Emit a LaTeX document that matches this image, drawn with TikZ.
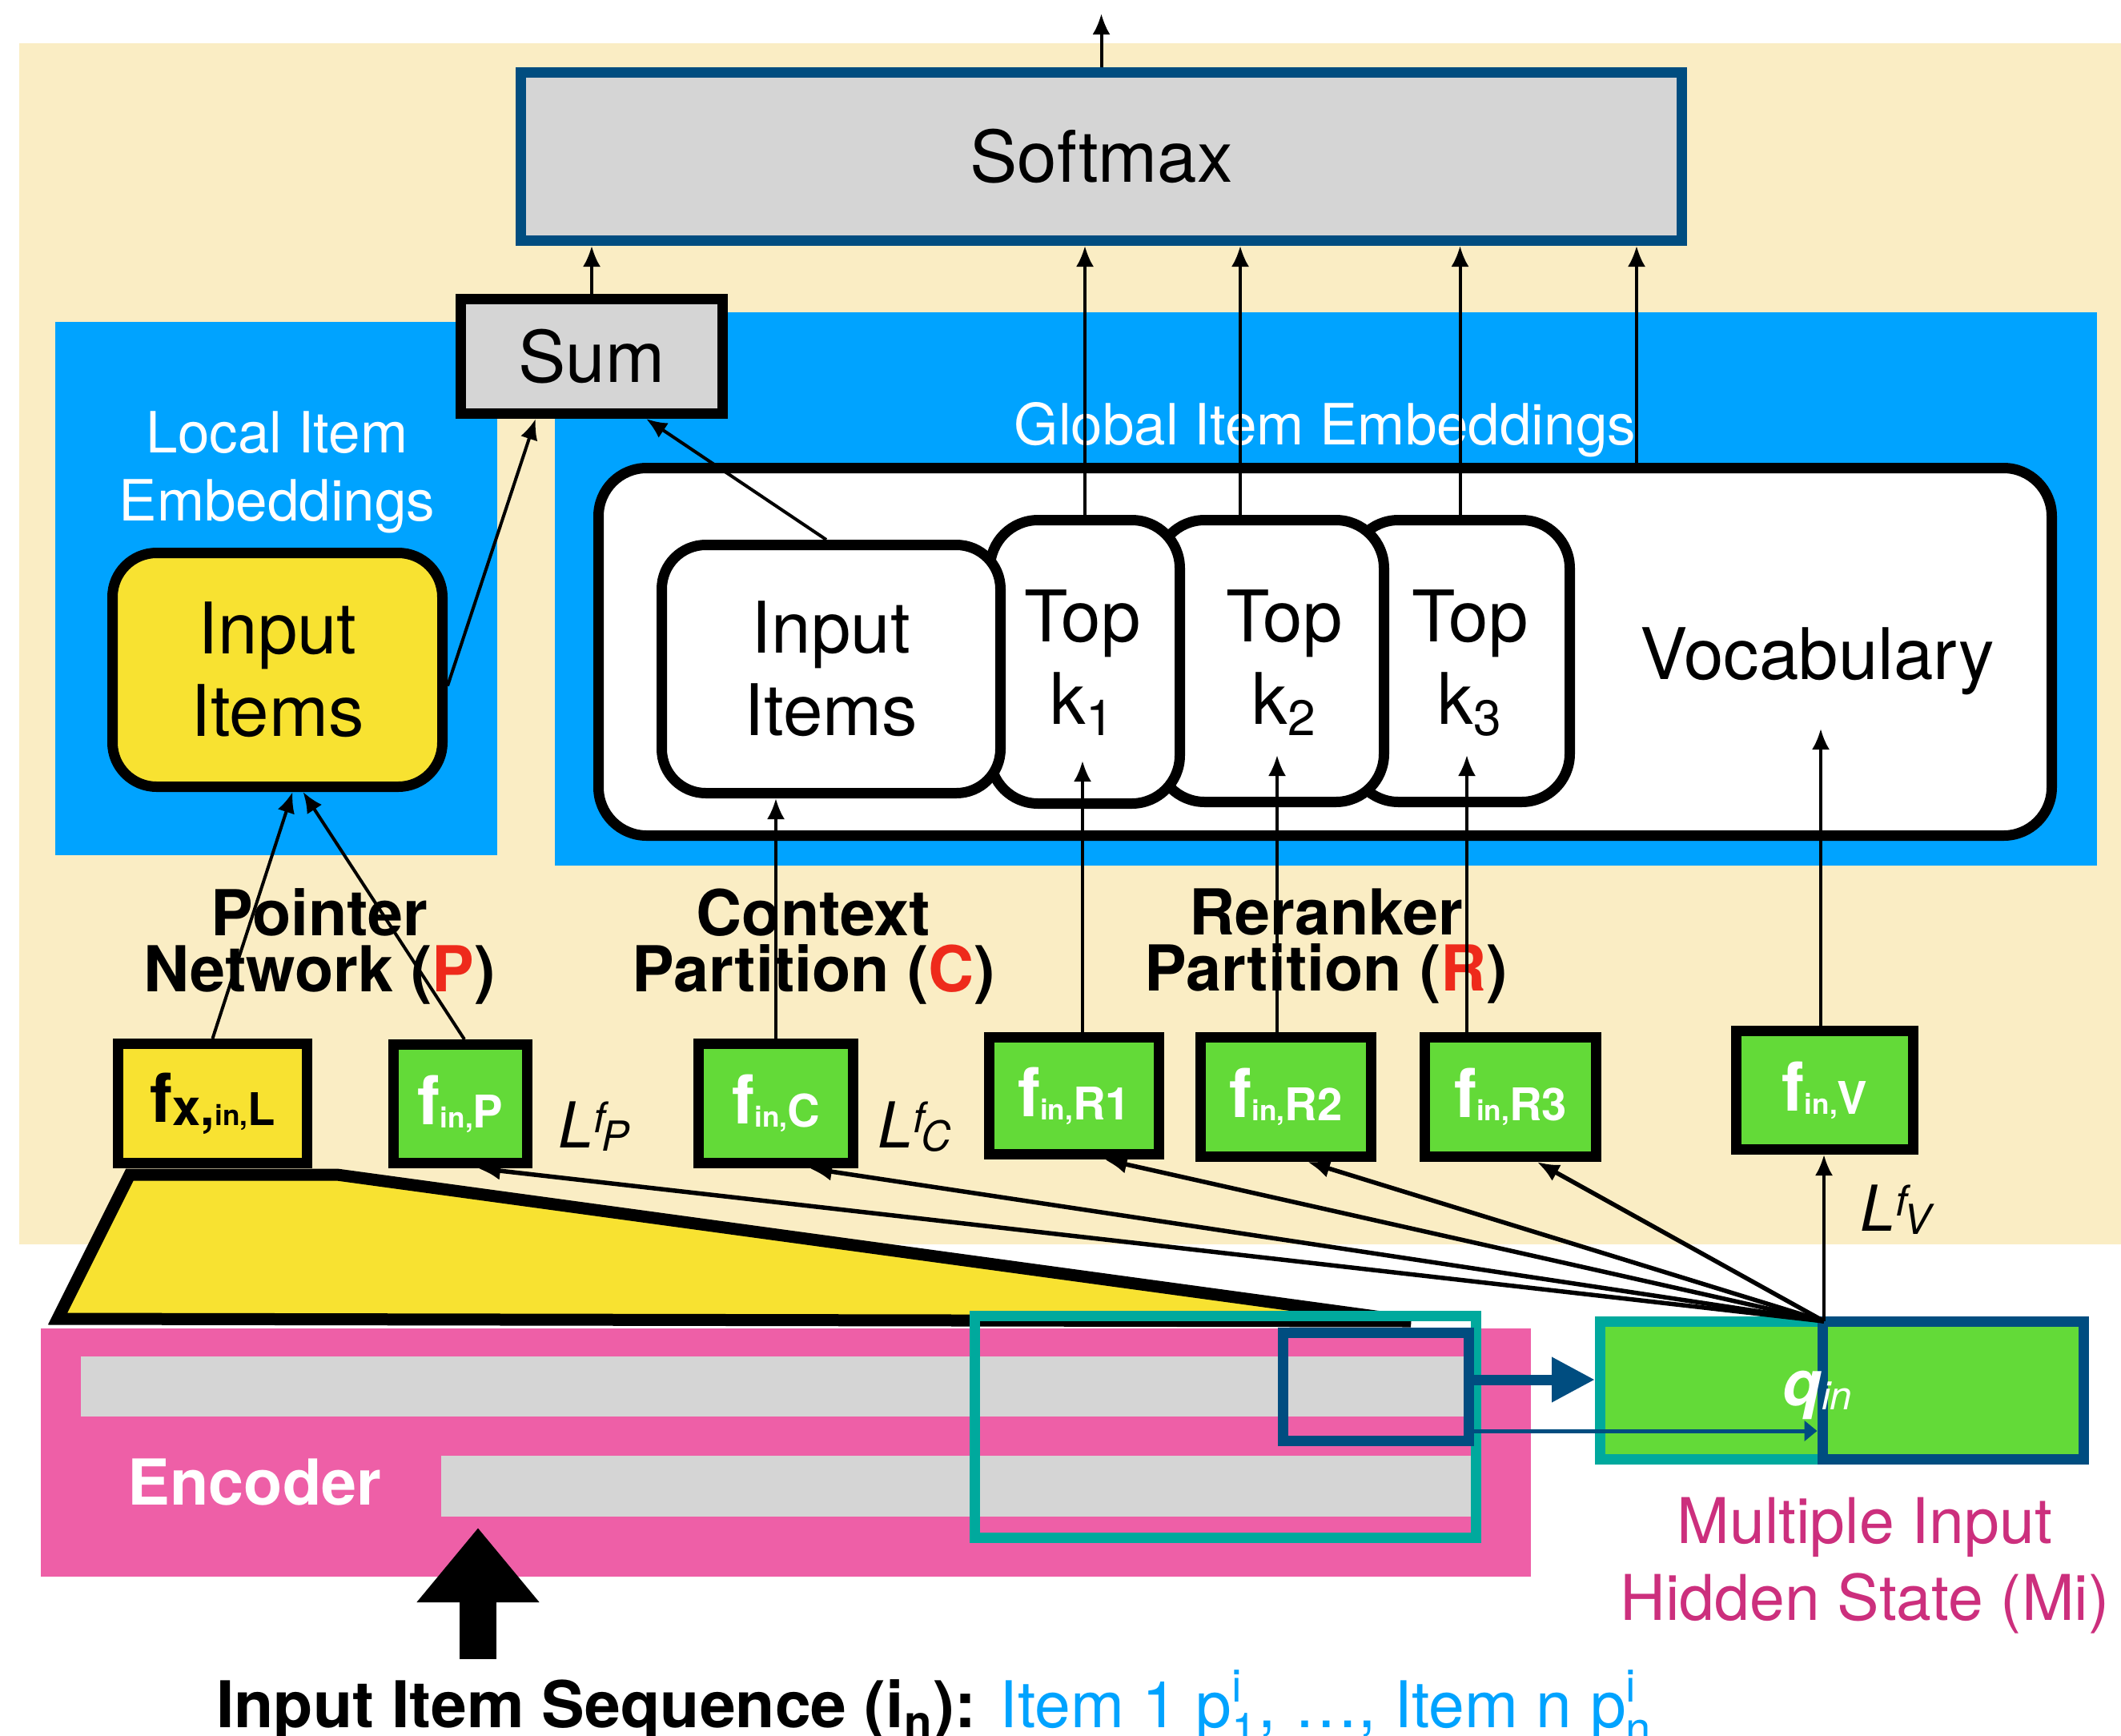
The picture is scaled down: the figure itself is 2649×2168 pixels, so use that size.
\documentclass[tikz,border=0pt]{standalone}
\usepackage{amsmath}
\usepackage{fontspec}
\setmainfont{TeX Gyre Heros}
\usetikzlibrary{arrows.meta}
\definecolor{beige}{HTML}{FAEDC4}
\definecolor{skyb}{HTML}{00A3FF}
\definecolor{yel}{HTML}{F8E231}
\definecolor{grn}{HTML}{63DA38}
\definecolor{pnk}{HTML}{EE5FA7}
\definecolor{tealc}{HTML}{00A99D}
\definecolor{dblue}{HTML}{004D80}
\definecolor{gry}{HTML}{D5D5D5}
\definecolor{mag}{HTML}{CC2F7D}
\definecolor{redc}{HTML}{EE2A1B}
\newcommand{\szbig}{\fontsize{25.3}{29.3}\selectfont}
\newcommand{\szlab}{\fontsize{22.5}{19.9}\selectfont}
\newcommand{\szblue}{\fontsize{20.2}{24.2}\selectfont}
\newcommand{\fsubtxt}[2]{\fontsize{24}{24}\selectfont f\raisebox{-0.4mm}{\fontsize{10}{10}\selectfont #1}\raisebox{-0.4mm}{\fontsize{16}{16}\selectfont #2}}
\newcommand{\Lsym}[1]{\fontsize{22.5}{22.5}\selectfont\textit{L}\rlap{\raisebox{1.85mm}{\fontsize{15}{15}\selectfont\textit{f}}}\hspace{1mm}\raisebox{-0.4mm}{\fontsize{14.7}{14.7}\selectfont\textit{#1}}}
\begin{document}
\begin{tikzpicture}[x=0.1mm,y=-0.1mm,
  bx/.style={draw=black,line width=1.3mm,inner sep=0pt},
  rbx/.style={bx,fill=white,rounded corners=6mm},
  fgrn/.style={bx,fill=grn,text=white,font=\bfseries},
  arr/.style={line width=0.4mm,-{Latex[length=2.6mm,width=2.2mm]}},
  fan/.style={line width=0.55mm,-{Latex[length=2.8mm,width=2.3mm]}},
  lab/.style={align=center,font=\szlab\bfseries,inner sep=0pt},
  Llab/.style={anchor=base west,inner sep=0pt}]
\useasboundingbox (0,0) rectangle (2649,2168);
\fill[white] (0,0) rectangle (2649,2168);
% background regions
\fill[beige] (24,54) rectangle (2649,1554);
\fill[skyb] (69,402) rectangle (621,1068);
\fill[skyb] (693,390) rectangle (2619,1081);
% softmax and sum
\node[bx,draw=dblue,fill=gry,minimum width=145mm,minimum height=21mm,font=\szbig] (smax) at (1375.5,195.5) {Softmax};
\node[bx,fill=gry,minimum width=32.7mm,minimum height=14.3mm,font=\szbig] (sum) at (739,445) {Sum};
% local
\node[bx,fill=yel,rounded corners=5.5mm,minimum width=41.2mm,minimum height=29.2mm,align=center,font=\szbig] (loc) at (346.5,836.5) {Input\\Items};
% global
\node[rbx,minimum width=181.5mm,minimum height=45.9mm] (glob) at (1655,814) {};
\node[rbx,minimum width=27.4mm,minimum height=35.2mm] (k3) at (1823.5,825.5) {};
\node[rbx,minimum width=28.4mm,minimum height=35.2mm] (k2) at (1586.5,825.5) {};
\node[rbx,minimum width=23.7mm,minimum height=35.4mm] (k1) at (1355,826.5) {};
\node[rbx,rounded corners=5.5mm,minimum width=42.3mm,minimum height=31mm,align=center,font=\szbig] (gII) at (1038,835.5) {Input\\Items};
\node[align=center,font=\szbig,inner sep=0pt] (k1t) at (1352,828) {Top\\k\textsubscript{1}};
\node[align=center,font=\szbig,inner sep=0pt] (k2t) at (1604,828) {Top\\k\textsubscript{2}};
\node[align=center,font=\szbig,inner sep=0pt] (k3t) at (1836,828) {Top\\k\textsubscript{3}};
\node[anchor=base,font=\szbig,inner sep=0pt] (voc) at (2270,848) {Vocabulary};
% region labels
\node[align=center,font=\szblue,text=white,inner sep=0pt] (locl) at (346,590) {Local Item\\Embeddings};
\node[anchor=base,font=\szblue,text=white,inner sep=0pt] (globl) at (1655,555) {Global Item Embeddings};
\node[lab] (ptr) at (399,1182) {Pointer\\Network (\textcolor{redc}{P})};
\node[lab] (ctx) at (1016,1182) {Context\\Partition (\textcolor{redc}{C})};
\node[lab] (rer) at (1656,1182) {Reranker\\Partition (\textcolor{redc}{R})};
% feature boxes
\node[bx,fill=yel,font=\bfseries,minimum width=23.6mm,minimum height=14.9mm] (fL) at (265.5,1378) {\fontsize{24}{24}\selectfont f\raisebox{-0.4mm}{\fontsize{18}{18}\selectfont x,}\raisebox{-0.4mm}{\fontsize{10}{10}\selectfont in,}\raisebox{-0.4mm}{\fontsize{16}{16}\selectfont L}};
\node[fgrn,minimum width=16.7mm,minimum height=14.8mm] (fP) at (575,1378.5) {\fsubtxt{in,}{P}};
\node[fgrn,minimum width=19.3mm,minimum height=14.9mm] (fC) at (969,1378) {\fsubtxt{in,}{C}};
\node[fgrn,minimum width=21.2mm,minimum height=14.6mm] (fR1) at (1341.5,1368.5) {\fsubtxt{in,}{R1}};
\node[fgrn,minimum width=21.3mm,minimum height=14.9mm] (fR2) at (1606,1370) {\fsubtxt{in,}{R2}};
\node[fgrn,minimum width=21.4mm,minimum height=14.9mm] (fR3) at (1886.5,1370) {\fsubtxt{in,}{R3}};
\node[fgrn,minimum width=22.1mm,minimum height=14.8mm] (fV) at (2279,1361.5) {\fsubtxt{in,}{V}};
% L labels
\node[Llab] (LP) at (697,1433) {\Lsym{P}};
\node[Llab] (LC) at (1096,1433) {\Lsym{C}};
\node[Llab] (LL) at (220,1570) {\Lsym{L}};
\node[Llab] (LV) at (2323,1537) {\Lsym{V}};
% trapezoid
\filldraw[fill=yel,draw=black,line width=1.5mm,line join=miter] (162,1467) -- (421,1467) -- (1762,1650) -- (72,1647) -- cycle;
% encoder
\fill[pnk] (51,1659) rectangle (1912,1969);
\fill[gry] (101,1694) rectangle (1835,1769);
\fill[gry] (551,1818) rectangle (1841,1894);
\node[anchor=base,font=\fontsize{22.5}{27}\selectfont\bfseries,text=white,inner sep=0pt] (enc) at (318,1879) {Encoder};
\draw[tealc,line width=1.3mm] (1217,1643) rectangle (1843,1920);
\node[draw=dblue,line width=1.3mm,minimum width=23.2mm,minimum height=13.5mm,inner sep=0pt] (sblue) at (1718.5,1732) {};
% q boxes
\node[draw=tealc,fill=grn,line width=1.3mm,minimum width=27.75mm,minimum height=17.2mm,inner sep=0pt] (qT) at (2137.25,1736) {};
\node[draw=dblue,fill=grn,line width=1.3mm,minimum width=32.65mm,minimum height=17.2mm,inner sep=0pt] (qB) at (2439.25,1736) {};
\node[anchor=base,text=white,inner sep=0pt] (qlab) at (2270,1755) {\fontsize{22.5}{22.5}\selectfont\bfseries\itshape q\raisebox{-0.5mm}{\fontsize{14}{14}\selectfont\mdseries\itshape in}};
\node[align=center,font=\fontsize{22.4}{27.3}\selectfont,text=mag,inner sep=0pt] (mi) at (2329,1955) {Multiple Input\\Hidden State (Mi)};
% encoder to q arrows
\coordinate (ta) at ([yshift=0.9mm]sblue.east);
\draw[dblue,line width=1.3mm,-{Triangle[length=5.4mm,width=5.3mm]}] (ta) -- (ta -| qT.west);
\coordinate (tb) at ([yshift=-5.5mm]sblue.east);
\draw[dblue,line width=0.5mm,-{Triangle[length=1.6mm,width=2.5mm]}] (tb) -- (tb -| qB.west);
% fan from q
\coordinate (qo) at ([xshift=0.85mm,yshift=-0.65mm]qB.north west);
\draw[fan] (qo) -- ([xshift=2.2mm]fP.south);
\draw[fan] (qo) -- ([xshift=4.2mm]fC.south);
\draw[fan] (qo) -- ([xshift=3.8mm]fR1.south);
\draw[fan] (qo) -- ([xshift=2.7mm]fR2.south);
\draw[fan] (qo) -- ([xshift=3.3mm]fR3.south);
\draw[arr] (qo) -- (qo |- fV.south);
% f boxes to embeddings
\draw[arr] (fL.north) -- ([xshift=1.9mm]loc.south);
\draw[arr] ([xshift=0.5mm]fP.north) -- ([xshift=3.2mm]loc.south);
\draw[arr] (fC.north) -- (fC.north |- gII.south);
\coordinate (k1in) at (1352,950);
\coordinate (k2in) at (1595,943);
\coordinate (k3in) at (1832,943);
\coordinate (vin) at (2274,910);
\draw[arr] (fR1.north -| k1in) -- (k1in);
\draw[arr] (fR2.north -| k2in) -- (k2in);
\draw[arr] (fR3.north -| k3in) -- (k3in);
\draw[arr] (fV.north -| vin) -- (vin);
% embeddings to sum / softmax
\draw[arr] ([yshift=-2mm]loc.east) -- ([xshift=-7mm]sum.south);
\draw[arr] ([xshift=-0.6mm]gII.north) -- ([xshift=6.8mm]sum.south);
\draw[arr] (sum.north) -- (sum.north |- smax.south);
\coordinate (s2) at ([xshift=17.35mm]smax.south);
\coordinate (s4) at ([xshift=66.85mm]smax.south);
\draw[arr] (k1.north) -- (k1.north |- smax.south);
\draw[arr] (k2.north -| s2) -- (s2);
\draw[arr] (k3.north) -- (k3.north |- smax.south);
\draw[arr] (glob.north -| s4) -- (s4);
\coordinate (out) at (1375.5,17);
\draw[arr] (smax.north) -- (out);
% input sequence
\node[anchor=base,inner sep=0pt,font=\fontsize{22.9}{27}\selectfont] (seq) at (1167,2157) {\textbf{Input Item Sequence (i\textsubscript{n}):} \textcolor{skyb}{Item 1 p$^{\text{i}}_{\text{1}}$, \ldots, Item n p$^{\text{i}}_{\text{n}}$}};
\coordinate (encin) at (597,1908);
\draw[line width=4.6mm,-{Triangle[length=9.3mm,width=14.7mm]}] (encin |- 0,2072) -- (encin);
\end{tikzpicture}
\end{document}
